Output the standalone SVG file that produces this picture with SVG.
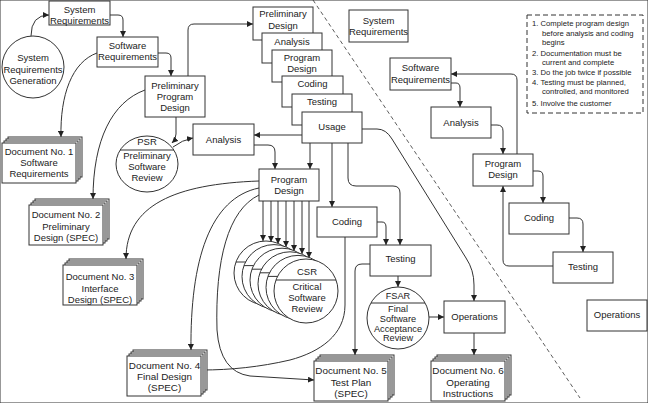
<svg xmlns="http://www.w3.org/2000/svg" width="648" height="403" viewBox="0 0 648 403">
<defs>
<marker id="ah" markerWidth="6" markerHeight="6" refX="6" refY="3" orient="auto" markerUnits="userSpaceOnUse">
<path d="M0,0 L6,3 L0,6 z" fill="#222"/>
</marker>
<g id="docback">
<rect x="6" y="-6" width="74" height="40" class="bk"/>
<rect x="4" y="-4" width="74" height="40" class="bk"/>
<rect x="2" y="-2" width="74" height="40" class="bk"/>
<rect x="0" y="0" width="74" height="40"/>
</g>
</defs>
<style>
rect,circle,ellipse{fill:#fff;stroke:#333;stroke-width:1}
.doc rect{fill:#fff;stroke:#333;stroke-width:1}
.doc rect.bk{stroke:#555;stroke-width:0.8}
text{font-family:"Liberation Sans",Arial,sans-serif;font-size:9.5px;fill:#222;text-anchor:middle}
.note text{font-size:7.7px;text-anchor:start}
.big text{font-size:9.9px}
.sm text{font-size:9.2px}
#connectors path{fill:none;stroke:#333;stroke-width:1}
.arr{marker-end:url(#ah)}
.div{stroke:#333;stroke-width:1}
</style>
<rect width="648" height="403" fill="#fff" stroke="none"/>

<!-- separator -->
<path d="M313,0 L580,398" fill="none" stroke="#333" stroke-width="0.8" stroke-dasharray="4,3"/>

<g id="connectors">
<path class="arr" d="M31,36 Q31,15 49,15"/>
<path class="arr" d="M110,15 L118,15 Q123,15 123,20 L123,37"/>
<path class="arr" d="M158,53 L166,53 Q171,53 171,58 L171,76"/>
<path class="arr" d="M97,53 C72,62 60,95 61,137"/>
<path class="arr" d="M188,76 L188,30 Q188,24 194,24 L253,24"/>
<path class="arr" d="M145,90 C112,102 93,140 93,199"/>
<path class="arr" d="M176,117 L176,134 Q176,139 172,143"/>
<path class="arr" d="M173,147 Q182,140 193,138"/>
<path class="arr" d="M302,135 L254,135"/>
<path class="arr" d="M254,145 L268,145 Q275,145 275,152 L275,169"/>
<path class="arr" d="M310,143 L310,169"/>
<path class="arr" d="M332,143 L332,207"/>
<path class="arr" d="M348,143 L348,178 Q348,186 356,186 L393,186 Q400,186 400,193 L400,245"/>
<path class="arr" d="M377,222 L382,222 Q386,222 386,227 L386,245"/>
<path class="arr" d="M362,129 L377,129 Q386,129 392,139 L466,258 Q474,270 474,285 L474,301"/>
<path class="arr" d="M263,201 L263,241"/>
<path class="arr" d="M271,201 L271,242"/>
<path class="arr" d="M278,201 L278,244"/>
<path class="arr" d="M286,201 L286,247"/>
<path class="arr" d="M294,201 L294,251"/>
<path class="arr" d="M302,201 L302,254"/>
<path class="arr" d="M309,201 L309,258"/>
<path class="arr" d="M259,181 C175,184 126,205 126,259"/>
<path class="arr" d="M259,188 C210,198 190,260 191,350"/>
<path class="arr" d="M259,195 C228,210 215,260 217,330 Q220,372 250,376 L314,380"/>
<path d="M345,237 L345,305 C345,335 320,352 290,360 C260,367 230,370 202,370"/>
<path class="arr" d="M370,264 L362,264 Q355,264 355,271 L355,355"/>
<path class="arr" d="M398,276 L398,287"/>
<path class="arr" d="M429,317 L444,317"/>
<path class="arr" d="M474,333 L474,355"/>
<path class="arr" d="M451,83 L456,83 Q460,83 460,88 L460,107"/>
<path class="arr" d="M491,125 L497,125 Q503,125 503,131 L503,154"/>
<path class="arr" d="M517,154 L517,80 Q517,74 511,74 L451,74"/>
<path class="arr" d="M533,171 L538,171 Q543,171 543,176 L543,203"/>
<path class="arr" d="M569,218 L577,218 Q583,218 583,224 L583,252"/>
<path class="arr" d="M553,266 L509,266 Q503,266 503,260 L503,186"/>
</g>

<g id="sysreq"><rect x="49" y="1" width="61" height="24"/><text x="79.5" y="13.4">System</text><text x="79.5" y="24.4">Requirements</text></g>
<g id="srgen"><circle cx="33" cy="67" r="31"/><text x="33" y="61.4">System</text><text x="33" y="73.4">Requirements</text><text x="33" y="84.4">Generation</text></g>
<g id="swreq"><rect x="97" y="37" width="61" height="30"/><text x="127.5" y="49.4">Software</text><text x="127.5" y="60.4">Requirements</text></g>
<g id="ppd"><rect x="145" y="76" width="60" height="41"/><text x="175" y="89.4">Preliminary</text><text x="175" y="100.4">Program</text><text x="175" y="111.4">Design</text></g>
<g id="psr"><ellipse cx="147" cy="164" rx="31" ry="28"/><line class="div" x1="120" y1="150" x2="174" y2="150"/><text x="147" y="145.4">PSR</text><text x="147" y="159.4">Preliminary</text><text x="147" y="170.4">Software</text><text x="147" y="181.4">Review</text></g>
<g id="analysis"><rect x="193" y="124" width="61" height="31"/><text x="223.5" y="143.4">Analysis</text></g>

<g id="stack-prelim"><rect x="253" y="7" width="60" height="33"/><text x="283" y="17.4">Preliminary</text><text x="283" y="29.4">Design</text></g>
<g id="stack-analysis"><rect x="262" y="33" width="60" height="30"/><text x="292" y="45.4">Analysis</text></g>
<g id="stack-progdesign"><rect x="272" y="50" width="60" height="32"/><text x="302" y="61.4">Program</text><text x="302" y="72.4">Design</text></g>
<g id="stack-coding"><rect x="282" y="76" width="61" height="31"/><text x="312.5" y="87.4">Coding</text></g>
<g id="stack-testing"><rect x="292" y="94" width="60" height="31"/><text x="322" y="105.4">Testing</text></g>
<g id="usage"><rect x="302" y="112" width="60" height="31"/><text x="332" y="130.4">Usage</text></g>

<g id="progdesign"><rect x="259" y="169" width="60" height="32"/><text x="289" y="183.4">Program</text><text x="289" y="194.4">Design</text></g>
<g id="coding"><rect x="317" y="207" width="60" height="30"/><text x="347" y="225.4">Coding</text></g>
<g id="testing"><rect x="370" y="245" width="61" height="31"/><text x="400.5" y="262.4">Testing</text></g>
<g id="fsar" class="sm"><circle cx="398" cy="318" r="31"/><line class="div" x1="371" y1="303" x2="425" y2="303"/><text x="398" y="299.4">FSAR</text><text x="398" y="312.2">Final</text><text x="398" y="322">Software</text><text x="398" y="331.8">Acceptance</text><text x="398" y="341.4">Review</text></g>
<g id="operations"><rect x="444" y="301" width="61" height="32"/><text x="474.5" y="320.4">Operations</text></g>

<g id="csr">
<circle cx="266" cy="273" r="32"/><line class="div" x1="236" y1="262" x2="296" y2="262"/>
<circle cx="274" cy="276.6" r="32"/><line class="div" x1="244" y1="265.6" x2="304" y2="265.6"/>
<circle cx="282" cy="280.2" r="32"/><line class="div" x1="252" y1="269.2" x2="312" y2="269.2"/>
<circle cx="290" cy="283.8" r="32"/><line class="div" x1="260" y1="272.8" x2="320" y2="272.8"/>
<circle cx="298" cy="287.4" r="32"/><line class="div" x1="268" y1="276.4" x2="328" y2="276.4"/>
<circle cx="306" cy="291" r="32"/><line class="div" x1="276" y1="280" x2="336" y2="280"/>
<text x="307" y="275.4">CSR</text><text x="307" y="290.4">Critical</text><text x="307" y="301.4">Software</text><text x="307" y="312.4">Review</text>
</g>

<g id="doc1" class="doc"><use href="#docback" x="2" y="143"/><text x="39" y="155.4">Document No. 1</text><text x="39" y="166.4">Software</text><text x="39" y="177.4">Requirements</text></g>
<g id="doc2" class="doc"><use href="#docback" x="29" y="205"/><text x="66" y="218.4">Document No. 2</text><text x="66" y="230.4">Preliminary</text><text x="66" y="241.4">Design (SPEC)</text></g>
<g id="doc3" class="doc"><use href="#docback" x="63" y="265"/><text x="100" y="280.4">Document No. 3</text><text x="100" y="292.4">Interface</text><text x="100" y="303.4">Design (SPEC)</text></g>
<g id="doc4" class="doc big"><use href="#docback" x="127" y="356"/><text x="164.5" y="368.6">Document No. 4</text><text x="164.5" y="379.6">Final Design</text><text x="164.5" y="390.6">(SPEC)</text></g>
<g id="doc5" class="doc big"><use href="#docback" x="314" y="361"/><text x="351" y="373.6">Document No. 5</text><text x="351" y="385.6">Test Plan</text><text x="351" y="396.6">(SPEC)</text></g>
<g id="doc6" class="doc big"><use href="#docback" x="431" y="361"/><text x="468" y="373.6">Document No. 6</text><text x="468" y="385.6">Operating</text><text x="468" y="396.6">Instructions</text></g>

<g id="r-sysreq"><rect x="349" y="10" width="59" height="32"/><text x="378.5" y="24.4">System</text><text x="378.5" y="35.4">Requirements</text></g>
<g id="r-swreq"><rect x="390" y="58" width="61" height="32"/><text x="420.5" y="71.4">Software</text><text x="420.5" y="83.4">Requirements</text></g>
<g id="r-analysis"><rect x="431" y="107" width="60" height="31"/><text x="461" y="126.4">Analysis</text></g>
<g id="r-progdesign"><rect x="473" y="154" width="60" height="32"/><text x="503" y="167.4">Program</text><text x="503" y="178.4">Design</text></g>
<g id="r-coding"><rect x="509" y="203" width="60" height="31"/><text x="539" y="221.4">Coding</text></g>
<g id="r-testing"><rect x="553" y="252" width="60" height="31"/><text x="583" y="270.4">Testing</text></g>
<g id="r-operations"><rect x="587" y="300" width="60" height="31"/><text x="617" y="318.4">Operations</text></g>

<g id="notes" class="note">
<rect x="527" y="15" width="116" height="98" fill="#fff" stroke="#333" stroke-dasharray="5,3"/>
<text x="532" y="25.8">1. Complete program design</text>
<text x="542" y="35.8">before analysis and coding</text>
<text x="542" y="44.8">begins</text>
<text x="532" y="55.8">2. Documentation must be</text>
<text x="542" y="64.8">current and complete</text>
<text x="532" y="74.8">3. Do the job twice if possible</text>
<text x="532" y="84.8">4. Testing must be planned,</text>
<text x="542" y="93.8">controlled, and monitored</text>
<text x="532" y="105.8">5. Involve the customer</text>
</g>
</svg>
